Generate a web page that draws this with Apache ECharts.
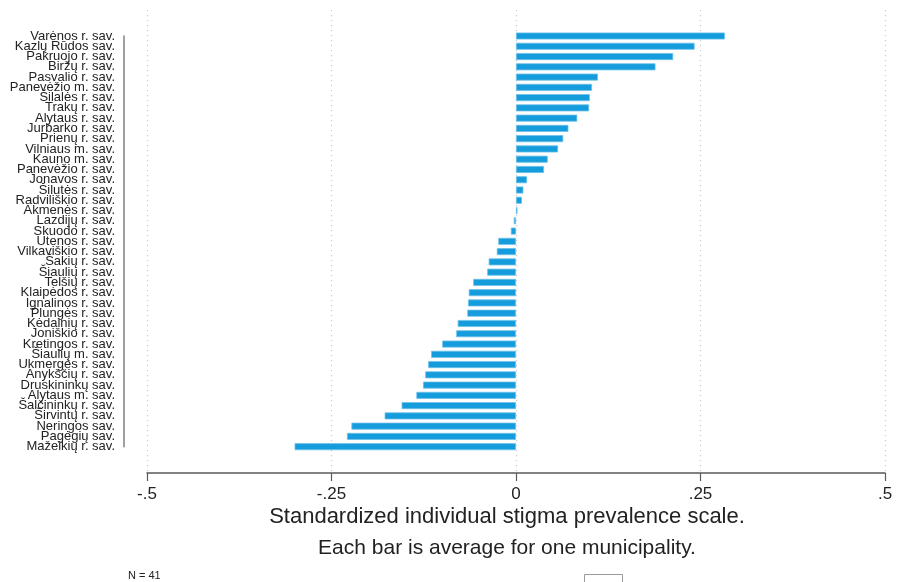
<!DOCTYPE html>
<html>
<head>
<meta charset="utf-8">
<script src="https://cdn.jsdelivr.net/npm/echarts@6/dist/echarts.min.js"></script>
<style>
  html, body { margin: 0; padding: 0; background: #fff; }
  #chart { width: 907px; height: 582px; }
</style>
</head>
<body>
<div id="chart"></div>
<script>
// Municipalities, ordered from highest to lowest average score
const municipalities = [
  'Varėnos r. sav.', 'Kazlų Rūdos sav.', 'Pakruojo r. sav.', 'Biržų r. sav.',
  'Pasvalio r. sav.', 'Panevėžio m. sav.', 'Šilalės r. sav.', 'Trakų r. sav.',
  'Alytaus r. sav.', 'Jurbarko r. sav.', 'Prienų r. sav.', 'Vilniaus m. sav.',
  'Kauno m. sav.', 'Panevėžio r. sav.', 'Jonavos r. sav.', 'Šilutės r. sav.',
  'Radviliškio r. sav.', 'Akmenės r. sav.', 'Lazdijų r. sav.', 'Skuodo r. sav.',
  'Utenos r. sav.', 'Vilkaviškio r. sav.', 'Šakių r. sav.', 'Šiaulių r. sav.',
  'Telšių r. sav.', 'Klaipėdos r. sav.', 'Ignalinos r. sav.', 'Plungės r. sav.',
  'Kėdainių r. sav.', 'Joniškio r. sav.', 'Kretingos r. sav.', 'Šiaulių m. sav.',
  'Ukmergės r. sav.', 'Anykščių r. sav.', 'Druskininkų sav.', 'Alytaus m. sav.',
  'Šalčininkų r. sav.', 'Širvintų r. sav.', 'Neringos sav.', 'Pagėgių sav.',
  'Mažeikių r. sav.'
];

// Average standardized stigma prevalence per municipality
const averages = [
  0.283, 0.242, 0.213, 0.189,
  0.111, 0.103, 0.100, 0.099,
  0.083, 0.071, 0.064, 0.057,
  0.043, 0.038, 0.015, 0.010,
  0.008, 0.002, -0.003, -0.007,
  -0.024, -0.026, -0.037, -0.039,
  -0.058, -0.064, -0.065, -0.066,
  -0.079, -0.081, -0.100, -0.115,
  -0.119, -0.123, -0.126, -0.135,
  -0.155, -0.178, -0.223, -0.229,
  -0.300
];

// x-axis ticks and their printed labels
const xTickValues = [-0.5, -0.25, 0, 0.25, 0.5];
const xTickLabels = ['-.5', '-.25', '0', '.25', '.5'];

const xTitleLines = [
  'Standardized individual stigma prevalence scale.',
  'Each bar is average for one municipality.'
];
const noteText = 'N = 41';

const FONT = "'Liberation Sans', Arial, Helvetica, sans-serif";

const chart = echarts.init(document.getElementById('chart'), null, { renderer: 'canvas' });

chart.setOption({
  animation: false,
  backgroundColor: '#ffffff',
  grid: [
    // bars: first and last category sit on the ends of the axis line
    { left: 147, right: 22, top: 36, height: 410.7 },
    // frame carrying the x scale and the dotted grid
    { left: 147, right: 22, top: 10, bottom: 109 }
  ],
  xAxis: [
    {
      gridIndex: 0, type: 'value', min: -0.5, max: 0.5, interval: 0.25,
      show: false
    },
    {
      gridIndex: 1, type: 'value', min: -0.5, max: 0.5, interval: 0.25,
      axisLine: { show: true, onZero: false, lineStyle: { color: '#5a5a5a', width: 1.6 } },
      axisTick: { show: true, length: 8, lineStyle: { color: '#5a5a5a', width: 1.2 } },
      axisLabel: {
        margin: 13, fontSize: 17, color: '#222', fontFamily: FONT,
        formatter: v => {
          const i = xTickValues.findIndex(t => Math.abs(t - v) < 1e-9);
          return i >= 0 ? xTickLabels[i] : '';
        }
      },
      splitLine: {
        show: true,
        lineStyle: { color: '#cfcfcf', width: 1.3, type: [1.3, 3.7] }
      }
    }
  ],
  yAxis: [
    {
      gridIndex: 0, type: 'category', data: municipalities, inverse: true,
      boundaryGap: false, offset: 23,
      axisLine: { show: true, onZero: false, lineStyle: { color: '#808080', width: 1.5 } },
      axisTick: { show: false },
      axisLabel: {
        interval: 0, margin: 9, fontSize: 13, color: '#222', fontFamily: FONT
      },
      splitLine: { show: false }
    },
    {
      gridIndex: 1, type: 'value', min: 0, max: 1, show: false
    }
  ],
  series: [
    {
      type: 'bar',
      xAxisIndex: 0,
      yAxisIndex: 0,
      data: averages,
      barWidth: 7,
      itemStyle: { color: '#159cdc', borderColor: '#6cc0ea', borderWidth: 0.8 }
    }
  ],
  graphic: [
    {
      type: 'text', x: 507, y: 517,
      style: {
        text: xTitleLines[0], font: '22px ' + FONT, fill: '#222',
        textAlign: 'center', textVerticalAlign: 'middle'
      }
    },
    {
      type: 'text', x: 507, y: 548,
      style: {
        text: xTitleLines[1], font: '21px ' + FONT, fill: '#222',
        textAlign: 'center', textVerticalAlign: 'middle'
      }
    },
    {
      type: 'text', x: 128, y: 576,
      style: {
        text: noteText, font: '11px ' + FONT, fill: '#222',
        textAlign: 'left', textVerticalAlign: 'middle'
      }
    },
    {
      type: 'rect', shape: { x: 584.5, y: 574.5, width: 38, height: 14 },
      style: { fill: '#fff', stroke: '#9a9a9a', lineWidth: 1 }
    }
  ]
});
</script>
</body>
</html>
